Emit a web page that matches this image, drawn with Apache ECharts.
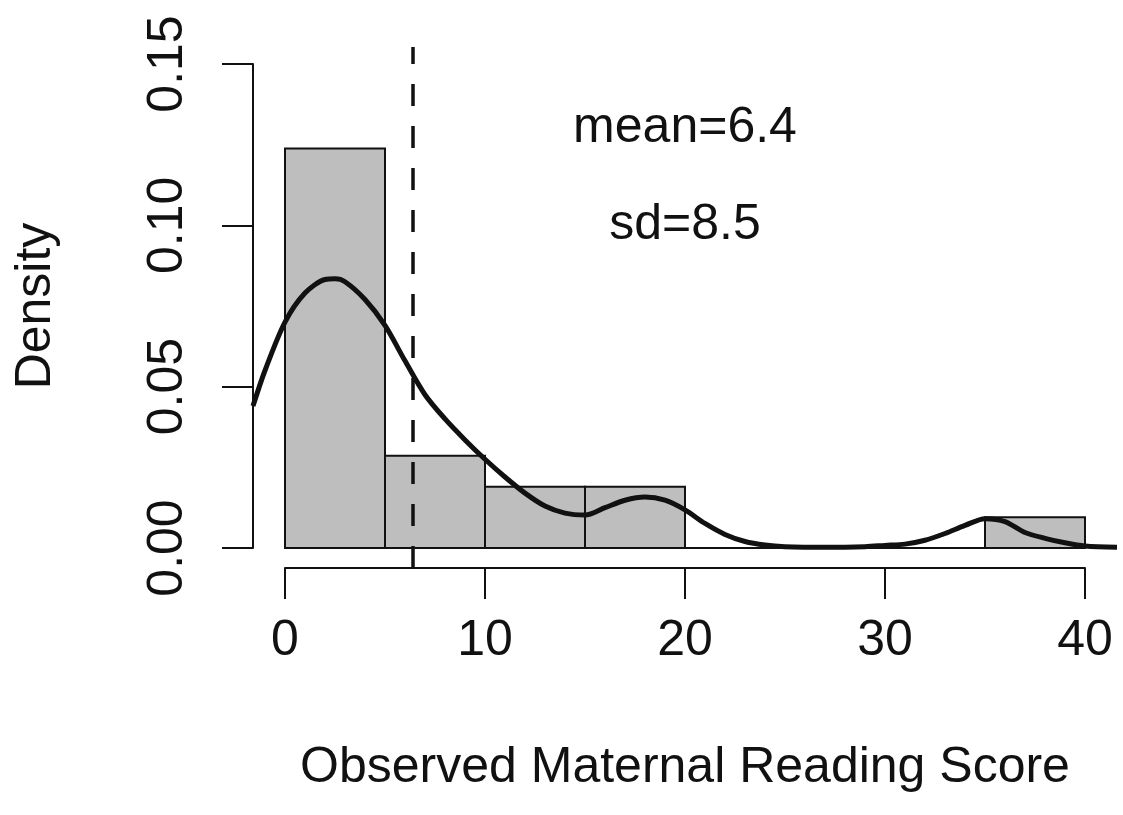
<!DOCTYPE html>
<html>
<head>
<meta charset="utf-8">
<title>Observed Maternal Reading Score</title>
<script src="https://cdn.jsdelivr.net/npm/echarts@6/dist/echarts.min.js"></script>
<style>
  html, body { margin: 0; padding: 0; background: #fff; }
  #chart { width: 1123px; height: 815px; }
</style>
</head>
<body>
<div id="chart"></div>
<script>
// histogram bins (width 5) and their densities
var binEdges = [0, 5, 10, 15, 20, 25, 30, 35, 40]
var binDensity = [0.1238, 0.0286, 0.0190, 0.0190, 0, 0, 0, 0.0095]

// kernel density curve
var curveX = [-1.6, -1, 0, 1, 2, 2.5, 3, 4, 5, 6, 7, 8, 9, 10, 11, 12, 13, 14, 15, 16, 17, 18, 19, 20,
  21, 22, 23, 24, 25, 27, 29, 30, 31, 32, 33, 34, 35, 36, 37, 38, 39, 40, 41.6]
var curveY = [0.044, 0.055, 0.070, 0.079, 0.0832, 0.0834, 0.0825, 0.077, 0.069, 0.058, 0.0475, 0.040, 0.0335, 0.0275, 0.022, 0.017, 0.013, 0.0108, 0.0102, 0.0125, 0.0148, 0.0158, 0.0148, 0.0118,
  0.0076, 0.0042, 0.0020, 0.0009, 0.0004, 0.0002, 0.0004, 0.0008, 0.0012, 0.0024, 0.0045, 0.0070, 0.0091, 0.0082, 0.0048, 0.0030, 0.0016, 0.0006, 0.0002]

var meanValue = 6.4
var statsText = ['mean=6.4', 'sd=8.5']
var statsX = [20, 20]
var statsY = [0.13, 0.10]

var xTicks = [0, 40, 10]        // min, max, interval
var yTicks = [0, 0.15, 0.05]

var font = "'Liberation Sans', Arial, Helvetica, sans-serif"
var ink = '#111'

var myChart = echarts.init(document.getElementById('chart'))

var bars = []
for (var i = 0; i < binDensity.length; i++) {
  bars.push([binEdges[i], binEdges[i + 1], binDensity[i]])
}
var curve = curveX.map(function (x, i) { return [x, curveY[i]] })
var stats = statsText.map(function (t, i) { return { value: [statsX[i], statsY[i]], name: t } })

var option = {
  animation: false,
  backgroundColor: '#fff',
  grid: [
    // axes + histogram (0..40, 0..0.15)
    { left: 285, right: 38, top: 64, bottom: 267 },
    // full plot region, for the curve and the mean line
    { left: 253, right: 2, top: 47, bottom: 247 }
  ],
  xAxis: [
    {
      gridIndex: 0,
      type: 'value',
      min: xTicks[0],
      max: xTicks[1],
      interval: xTicks[2],
      offset: 20,
      name: 'Observed Maternal Reading Score',
      nameLocation: 'middle',
      nameGap: 175,
      nameTextStyle: { fontFamily: font, fontSize: 50, color: ink },
      axisLine: { show: true, onZero: false, lineStyle: { color: ink, width: 2 } },
      axisTick: { show: true, length: 31, lineStyle: { color: ink, width: 2 } },
      axisLabel: { fontFamily: font, fontSize: 50, color: ink, margin: 48 },
      splitLine: { show: false }
    },
    { gridIndex: 1, type: 'value', min: -1.6, max: 41.8, show: false }
  ],
  yAxis: [
    {
      gridIndex: 0,
      type: 'value',
      min: yTicks[0],
      max: yTicks[1],
      interval: yTicks[2],
      offset: 32,
      name: 'Density',
      nameLocation: 'middle',
      nameGap: 192,
      nameTextStyle: { fontFamily: font, fontSize: 50, color: ink },
      axisLine: { show: true, onZero: false, lineStyle: { color: ink, width: 2 } },
      axisTick: { show: true, length: 31, lineStyle: { color: ink, width: 2 } },
      axisLabel: {
        fontFamily: font, fontSize: 50, color: ink, margin: 60, rotate: 90,
        formatter: function (v) { return v.toFixed(2) }
      },
      splitLine: { show: false }
    },
    { gridIndex: 1, type: 'value', min: -0.0062, max: 0.15525, show: false }
  ],
  series: [
    {
      type: 'custom',
      xAxisIndex: 0,
      yAxisIndex: 0,
      data: bars,
      renderItem: function (params, api) {
        var p0 = api.coord([api.value(0), api.value(2)])
        var p1 = api.coord([api.value(1), 0])
        return {
          type: 'rect',
          shape: { x: p0[0], y: p0[1], width: p1[0] - p0[0], height: p1[1] - p0[1] },
          style: { fill: '#bebebe', stroke: ink, lineWidth: 2 }
        }
      },
      z: 1
    },
    {
      type: 'line',
      xAxisIndex: 1,
      yAxisIndex: 1,
      data: curve,
      smooth: 0.3,
      symbol: 'none',
      lineStyle: { color: ink, width: 5 },
      z: 3,
      markLine: {
        silent: true,
        symbol: 'none',
        label: { show: false },
        lineStyle: { color: ink, width: 3.5, type: [22, 20] },
        data: [{ xAxis: meanValue }]
      }
    },
    {
      type: 'scatter',
      xAxisIndex: 1,
      yAxisIndex: 1,
      data: stats,
      symbolSize: 0,
      itemStyle: { opacity: 1 },
      label: {
        show: true,
        position: 'inside',
        formatter: '{b}',
        fontFamily: font,
        fontSize: 50,
        color: ink,
        opacity: 1
      },
      z: 4
    }
  ]
}

myChart.setOption(option)
</script>
</body>
</html>
